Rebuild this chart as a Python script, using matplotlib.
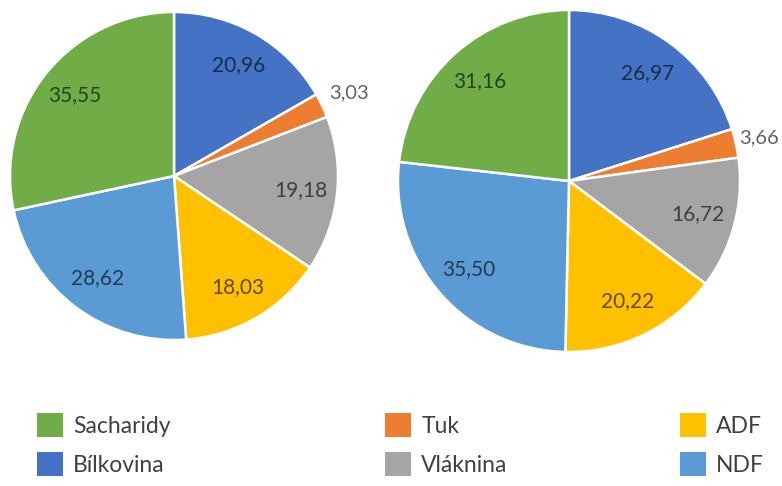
import matplotlib
matplotlib.use("Agg")
import matplotlib.pyplot as plt
import matplotlib.patches as mpatches
import numpy as np

plt.rcParams['font.family'] = ['Lato', 'DejaVu Sans']

# Composition of the two samples (clockwise from 12 o'clock)
categories = ["Bílkovina", "Tuk", "Vláknina", "ADF", "NDF", "Sacharidy"]
sample_a = [20.96, 3.03, 19.18, 18.03, 28.62, 35.55]
sample_b = [26.97, 3.66, 16.72, 20.22, 35.50, 31.16]

colors = {
    "Sacharidy": "#70AD47",
    "Bílkovina": "#4472C4",
    "Tuk": "#ED7D31",
    "Vláknina": "#A5A5A5",
    "ADF": "#FFC000",
    "NDF": "#5B9BD5",
}
legend_columns = [["Sacharidy", "Bílkovina"], ["Tuk", "Vláknina"], ["ADF", "NDF"]]

W, H = 782, 486
fig = plt.figure(figsize=(W / 100, H / 100), dpi=100)
fig.patch.set_facecolor("white")


def pie_axes(cx, cy, r):
    return fig.add_axes([(cx - r) / W, (H - cy - r) / H, 2 * r / W, 2 * r / H])


def draw_pie(ax, values, outer_d):
    wedges, _ = ax.pie(
        values,
        colors=[colors[c] for c in categories],
        startangle=90,
        counterclock=False,
        radius=1.0,
        wedgeprops=dict(edgecolor="white", linewidth=1.8),
    )
    ax.set_xlim(-1, 1)
    ax.set_ylim(-1, 1)
    ax.set_aspect("equal")
    ax.axis("off")
    total = sum(values)
    for w, v in zip(wedges, values):
        mid = np.deg2rad((w.theta1 + w.theta2) / 2)
        outside = v / total < 0.05
        d = outer_d if outside else 0.78
        ax.text(d * np.cos(mid), d * np.sin(mid), f"{v:.2f}".replace(".", ","),
                ha="center", va="center", fontsize=14.5 if outside else 15,
                color="black", alpha=0.62, clip_on=False)


draw_pie(pie_axes(174, 176, 164), sample_a, 1.18)
draw_pie(pie_axes(569, 181, 171), sample_b, 1.14)

# Legend: three columns of two entries each
col_x = [37, 385, 680]
for x, names in zip(col_x, legend_columns):
    handles = [mpatches.Patch(facecolor=colors[n], edgecolor="none") for n in names]
    fig.legend(handles, names, loc="upper left",
               bbox_to_anchor=(x / W, (H - 413) / H),
               frameon=False, fontsize=16.5, labelcolor="#404040",
               handlelength=1.13, handleheight=1.22, handletextpad=0.45,
               labelspacing=0.68, borderpad=0, borderaxespad=0)

fig.savefig("out.png", dpi=100, facecolor="white")
